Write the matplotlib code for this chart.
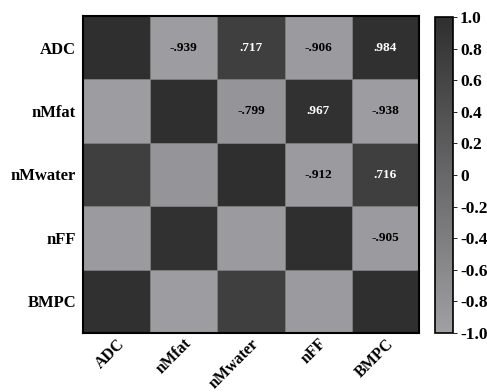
import numpy as np
import matplotlib.pyplot as plt
from matplotlib.colors import LinearSegmentedColormap

labels = ["ADC", "nMfat", "nMwater", "nFF", "BMPC"]
corr = np.array([
    [1.000, -0.939, 0.717, -0.906, 0.984],
    [-0.939, 1.000, -0.799, 0.967, -0.938],
    [0.717, -0.799, 1.000, -0.912, 0.716],
    [-0.906, 0.967, -0.912, 1.000, -0.905],
    [0.984, -0.938, 0.716, -0.905, 1.000],
])
cbar_ticks = [1.0, 0.8, 0.6, 0.4, 0.2, 0.0, -0.2, -0.4, -0.6, -0.8, -1.0]
cbar_ticklabels = ["1.0", "0.8", "0.6", "0.4", "0.2", "0", "-0.2", "-0.4", "-0.6", "-0.8", "-1.0"]

plt.rcParams["font.family"] = ["Liberation Serif", "DejaVu Serif"]
plt.rcParams["font.weight"] = "bold"

cmap = LinearSegmentedColormap.from_list("grays", ["#a09fa3", "#2f2f2f"])

fig = plt.figure(figsize=(4.87, 3.92), dpi=100)
ax = fig.add_axes([83 / 487, 1 - 333 / 392, (419 - 83) / 487, (333 - 16) / 392])
cax = fig.add_axes([435 / 487, 1 - 333 / 392, (453 - 435) / 487, (333 - 17) / 392])

n = len(labels)
mesh = ax.pcolormesh(np.arange(n + 1), np.arange(n + 1), corr, cmap=cmap,
                     vmin=-1, vmax=1, edgecolors="#7a7a7a", linewidth=0.4)
ax.set_xlim(0, n)
ax.set_ylim(n, 0)

for i in range(n):
    for j in range(i + 1, n):
        v = corr[i, j]
        txt = f"{v:.3f}".replace("0.", ".")
        ax.text(j + 0.5, i + 0.5, txt, ha="center", va="center",
                fontsize=9.5, fontweight="bold",
                color="white" if v > 0 else "black")

ax.set_xticks(np.arange(n) + 0.5)
ax.set_yticks(np.arange(n) + 0.5)
ax.set_xticklabels(labels, rotation=45, ha="right", rotation_mode="anchor",
                   fontsize=11.5, fontweight="bold")
ax.set_yticklabels(labels, fontsize=12, fontweight="bold")
ax.tick_params(axis="y", length=0, pad=5)
ax.tick_params(axis="x", length=0, pad=2)
for s in ax.spines.values():
    s.set_linewidth(1.5)
    s.set_color("black")

cb = fig.colorbar(mesh, cax=cax)
cb.set_ticks(cbar_ticks)
cb.set_ticklabels(cbar_ticklabels)
cb.outline.set_linewidth(1.2)
cax.tick_params(labelsize=12.5, length=3, width=0.6, direction="out", pad=2)
for t in cax.get_yticklabels():
    t.set_fontweight("bold")

fig.savefig("out.png", dpi=100)
